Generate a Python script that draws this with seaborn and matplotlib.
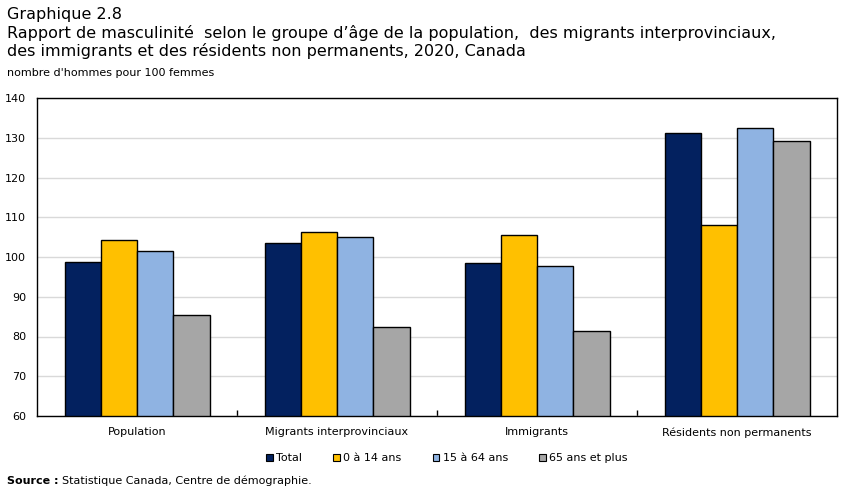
import pandas as pd
import seaborn as sns
import matplotlib.pyplot as plt
from matplotlib.patches import Patch

# Data
groups = ["Population", "Migrants interprovinciaux", "Immigrants", "Résidents non permanents"]
series = ["Total", "0 à 14 ans", "15 à 64 ans", "65 ans et plus"]
total = [98.7, 103.4, 98.4, 131.1]
age_0_14 = [104.4, 106.3, 105.5, 108.0]
age_15_64 = [101.4, 105.0, 97.7, 132.4]
age_65_plus = [85.3, 82.3, 81.3, 129.1]
colors = ["#03215F", "#FFC000", "#8FB3E2", "#A6A6A6"]

df = pd.DataFrame({
    "groupe": groups * 4,
    "serie": [s for s in series for _ in groups],
    "valeur": total + age_0_14 + age_15_64 + age_65_plus,
})

sns.set_style("white")
plt.rcParams["font.family"] = ["DejaVu Sans"]
plt.rcParams["text.color"] = "black"
plt.rcParams["xtick.color"] = "black"
plt.rcParams["ytick.color"] = "black"

fig = plt.figure(figsize=(8.52, 4.93), dpi=100)
ax = fig.add_axes([37 / 852, 1 - 416 / 493, 800 / 852, 318 / 493])

sns.barplot(
    data=df, x="groupe", y="valeur", hue="serie",
    order=groups, hue_order=series, palette=colors,
    width=0.725, gap=0, saturation=1,
    edgecolor="black", linewidth=1.0, ax=ax, legend=False,
)

ax.set_ylim(60, 140)
ax.set_yticks(range(60, 141, 10))
ax.set_xlim(-0.5, 3.5)
ax.set_xlabel("")
ax.set_ylabel("")
ax.yaxis.grid(True, color="#D9D9D9", linewidth=1)
ax.set_axisbelow(True)
for sp in ax.spines.values():
    sp.set_color("black")
    sp.set_linewidth(1)
ax.tick_params(axis="y", length=0, labelsize=8, pad=8)
ax.tick_params(axis="x", length=0, labelsize=8, pad=8)
ax.set_xticks([0.5, 1.5, 2.5], minor=True)
ax.tick_params(axis="x", which="minor", bottom=True, direction="in", length=4,
               width=1, color="black")

title_size = 11.5
fig.text(7 / 852, 1 - 15 / 493, "Graphique 2.8", fontsize=title_size, va="center", ha="left")
fig.text(7 / 852, 1 - 33 / 493,
         "Rapport de masculinité  selon le groupe d’âge de la population,  des migrants interprovinciaux,",
         fontsize=title_size, va="center", ha="left")
fig.text(7 / 852, 1 - 51 / 493,
         "des immigrants et des résidents non permanents, 2020, Canada",
         fontsize=title_size, va="center", ha="left")
fig.text(7 / 852, 1 - 73 / 493, "nombre d'hommes pour 100 femmes", fontsize=8, va="center", ha="left")

handles = [Patch(facecolor=c, edgecolor="black", linewidth=0.8) for c in colors]
fig.legend(handles, series, loc="center", bbox_to_anchor=(447 / 852, 1 - 458 / 493),
           ncol=4, frameon=False, fontsize=8, handlelength=0.6, handleheight=0.6,
           handletextpad=0.3, columnspacing=2.8)

fig.text(7 / 852, 1 - 481 / 493, "Source :", fontsize=8, fontweight="bold", va="center", ha="left")
fig.text(62 / 852, 1 - 481 / 493, "Statistique Canada, Centre de démographie.", fontsize=8,
         va="center", ha="left")

fig.savefig("out.png", dpi=100)
